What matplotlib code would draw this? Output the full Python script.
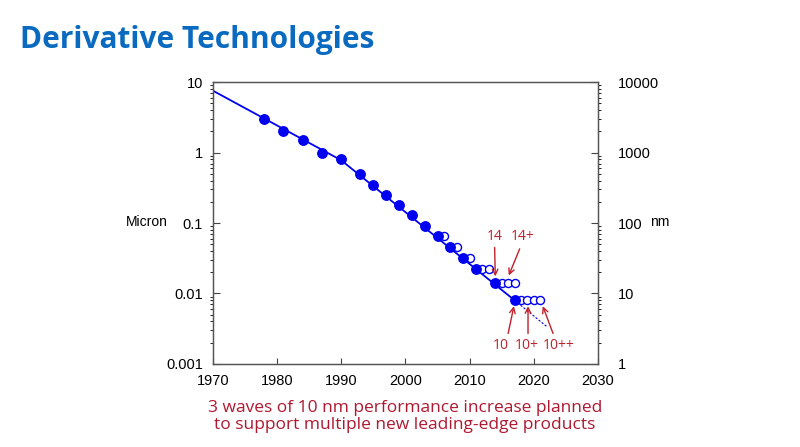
import matplotlib.pyplot as plt
import numpy as np

# node introductions (filled) and derivatives (open), in microns
node_years = [1978, 1981, 1984, 1987, 1990, 1993, 1995, 1997, 1999, 2001,
              2003, 2005, 2007, 2009, 2011, 2014, 2017]
node_micron = [3.0, 2.0, 1.5, 1.0, 0.8, 0.5, 0.35, 0.25, 0.18, 0.13,
               0.09, 0.065, 0.045, 0.032, 0.022, 0.014, 0.008]

deriv_years = [2006, 2008, 2010, 2012, 2013, 2015, 2016, 2017,
               2018, 2019, 2020, 2021]
deriv_micron = [0.065, 0.045, 0.032, 0.022, 0.022, 0.014, 0.014, 0.014,
                0.008, 0.008, 0.008, 0.008]

trend_years = [1970, 1990, 2017]
trend_micron = [7.6, 0.78, 0.008]
proj_years = [2017, 2022]
proj_micron = [0.008, 0.0034]

blue = '#0000f0'
red = '#c0202a'

plt.rcParams['font.family'] = ['Liberation Sans', 'DejaVu Sans']
fig = plt.figure(figsize=(8, 4.47), dpi=100)
ax = fig.add_axes([0.266, 0.186, 0.4815, 0.63])

ax.plot(trend_years, trend_micron, color=blue, lw=1.3, zorder=2)
ax.plot(proj_years, proj_micron, color=blue, lw=0.8, ls=(0, (2, 1.5)), zorder=2)
ax.plot(deriv_years, deriv_micron, 'o', ms=5.8, mfc='white', mec=blue, mew=1.0, zorder=3)
ax.plot(node_years, node_micron, 'o', ms=6.8, color=blue, zorder=4)

ax.set_yscale('log')
ax.set_xlim(1970, 2030)
ax.set_ylim(0.001, 10)
ax.set_xticks(range(1970, 2031, 10))
ax.set_yticks([0.001, 0.01, 0.1, 1, 10])
ax.set_yticklabels(['0.001', '0.01', '0.1', '1', '10'])
ax.tick_params(axis='both', direction='in', labelsize=10.5, color='#444444', pad=7)
ax.tick_params(axis='x', length=4, top=False)
ax.tick_params(axis='y', which='major', length=5, right=False)
ax.tick_params(axis='y', which='minor', length=2.5, right=False)
for s in ax.spines.values():
    s.set_color('#555555')
    s.set_linewidth(1.0)

ax2 = ax.twinx()
ax2.set_yscale('log')
ax2.set_ylim(1, 10000)
ax2.set_yticks([1, 10, 100, 1000, 10000])
ax2.set_yticklabels(['1', '10', '100', '1000', '10000'])
ax2.tick_params(axis='y', direction='in', labelsize=10.5, color='#444444', pad=14)
ax2.tick_params(axis='y', which='major', length=5)
ax2.tick_params(axis='y', which='minor', length=2.5)
for s in ax2.spines.values():
    s.set_color('#555555')

fig.text(0.184, 0.503, 'Micron', fontsize=10, ha='center', va='center')
fig.text(0.825, 0.503, 'nm', fontsize=10, ha='center', va='center')

# node labels with arrows
notes = [
    ('14', (2014.0, 0.0175), (2013.9, 0.045), (2013.9, 0.064)),
    ('14+', (2016.1, 0.018), (2017.8, 0.043), (2018.3, 0.064)),
    ('10', (2016.9, 0.0066), (2016.0, 0.0027), (2014.9, 0.0018)),
    ('10+', (2019.1, 0.0066), (2019.1, 0.0027), (2018.9, 0.0018)),
    ('10++', (2021.4, 0.0066), (2023.0, 0.0027), (2023.8, 0.0018)),
]
for label, head, tail, pos in notes:
    ax.annotate('', xy=head, xytext=tail,
                arrowprops=dict(arrowstyle='->', color=red, lw=1.0,
                                shrinkA=0, shrinkB=0))
    ax.text(pos[0], pos[1], label, color=red, fontsize=10,
            ha='center', va='center', family=['Open Sans', 'DejaVu Sans'])

fig.text(0.025, 0.91, 'Derivative Technologies', fontsize=21.5, fontweight='bold',
         color='#0a6ac0', ha='left', va='center',
         family=['Open Sans', 'DejaVu Sans'])
fig.text(0.506, 0.068, '3 waves of 10 nm performance increase planned\n'
         'to support multiple new leading-edge products',
         fontsize=12.5, color='#b01830', ha='center', va='center',
         linespacing=1.1, family=['Open Sans', 'DejaVu Sans'])

fig.savefig('out.png', dpi=100)
